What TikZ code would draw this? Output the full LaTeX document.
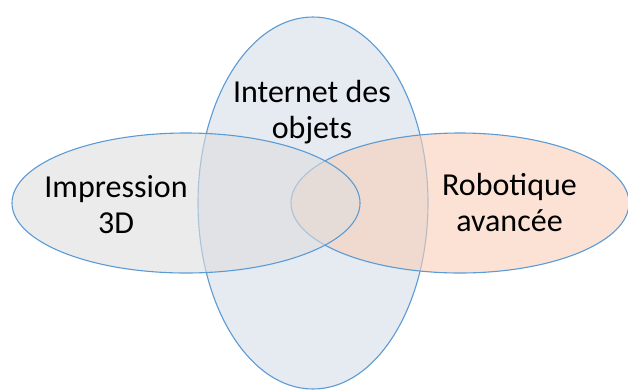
\documentclass[tikz,border=0pt]{standalone}
\usepackage{fontspec}
\setmainfont{Carlito}
\usetikzlibrary{shapes.geometric, positioning}
\definecolor{cEdge}{RGB}{91,155,213}
\definecolor{cGrey}{RGB}{222,222,222}
\definecolor{cBlue}{RGB}{230,234,241}
\definecolor{cPeach}{RGB}{248,207,185}
\tikzset{
	bubble/.style={ellipse, draw=cEdge, line width=1.1pt, inner sep=0pt, outer sep=0pt},
	lbl/.style={align=center, inner sep=0pt, font=\fontsize{32}{36}\selectfont},
}
\begin{document}
\begin{tikzpicture}[x=1pt, y=-1pt]
	\useasboundingbox (0,0) rectangle (628,389);
	\clip (0,0) rectangle (628,389);
	% tall one first, the two flat ones lie over it
	\node[bubble, fill=cBlue, minimum width=230pt, minimum height=372pt] (iot) at (313,203) {};
	\node[bubble, fill=cPeach, fill opacity=0.6, minimum width=338pt, minimum height=140pt] (robo) at (460,203) {};
	\node[bubble, fill=cGrey, fill opacity=0.6, minimum width=348pt, minimum height=140pt] (impr) at (186,203) {};
	% labels
	\node[lbl] (tImpr) at (116,205) {Impression\\ 3D};
	\node[lbl] (tIot) at (312,112) {Internet des\\ objets};
	\node[lbl] (tRobo) at (509.5,203) {Robotique\\ avancée};
\end{tikzpicture}
\end{document}
